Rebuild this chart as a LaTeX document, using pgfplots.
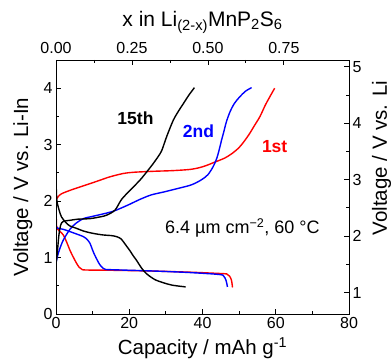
\documentclass[border=0pt]{standalone}
\usepackage{pgfplots}
\pgfplotsset{compat=1.18}
\usepackage{pgfplotstable}
\usepackage{fontspec}
\setmainfont{Liberation Sans}

\pgfplotstableread{
cap V
0.0 2.02
0.6 2.08
1.5 2.13
3.8 2.19
6.5 2.25
9.3 2.31
12 2.37
14.7 2.43
18.4 2.49
21 2.51
23.8 2.52
27.3 2.53
31.8 2.54
36.4 2.56
39 2.59
41 2.63
43.7 2.70
46 2.76
48 2.84
50.0 2.95
51.5 3.07
52.8 3.19
54.2 3.34
55.7 3.50
57.3 3.72
59.7 4.00
}\redch

\pgfplotstableread{
cap V
0 2.05
0.05 1.8
0.15 1.56
0.5 1.50
1.1 1.46
2.0 1.40
3.0 1.26
3.8 1.13
4.7 1.01
5.6 0.90
6.3 0.83
7.0 0.795
8 0.78
15 0.775
27 0.76
37 0.74
44 0.72
46.6 0.71
47.4 0.67
47.9 0.60
48.1 0.52
48.2 0.47
}\reddis

\pgfplotstableread{
cap V
0 0.90
0.35 1.01
1.0 1.15
2.0 1.31
3.8 1.50
5.5 1.61
7.5 1.69
10 1.73
12.0 1.76
15.6 1.82
19.3 1.92
22.9 2.03
26 2.11
29.3 2.16
33 2.22
36.6 2.28
38.4 2.33
40 2.39
41.5 2.47
42.9 2.61
43.9 2.76
44.6 2.92
45.2 3.08
45.7 3.20
46.5 3.40
47.5 3.58
48.7 3.73
50.2 3.85
51.8 3.95
53.4 4.01
}\bluech

\pgfplotstableread{
cap V
0 1.55
0.5 1.52
2.0 1.50
3.8 1.46
5.5 1.42
7.5 1.37
8.5 1.32
9.3 1.25
10.0 1.13
10.6 1.04
11.3 0.95
12.0 0.87
12.9 0.81
13.5 0.79
15 0.785
20 0.775
27.3 0.76
36.4 0.735
44.6 0.70
45.8 0.67
46.4 0.60
46.7 0.52
46.8 0.48
}\bluedis

\pgfplotstableread{
cap V
0 0.90
0.3 1.05
0.8 1.40
1.3 1.58
2.0 1.64
3.8 1.66
6 1.68
9.3 1.69
12 1.72
13.8 1.75
16.1 1.84
17.9 2.03
20.2 2.19
22.9 2.37
24.8 2.52
26.6 2.67
28.0 2.80
28.9 2.90
30.2 3.14
32.0 3.43
33.5 3.60
34.8 3.73
36.3 3.88
37.8 4.01
}\blackch

\pgfplotstableread{
cap V
0 2.35
0.15 2.1
0.3 1.98
0.9 1.83
1.5 1.72
2.7 1.62
3.8 1.56
5.5 1.52
7.5 1.47
10 1.43
12.9 1.40
15 1.39
16.6 1.37
17.8 1.33
18.4 1.28
19.3 1.20
20.2 1.12
21.1 1.03
22.0 0.95
23.4 0.81
24.6 0.72
26 0.65
27.3 0.60
29.5 0.55
31.8 0.51
35.4 0.48
}\blackdis

\begin{document}
\begin{tikzpicture}
\pgfplotsset{
  common/.style={
    scale only axis, width=293pt, height=254pt,
    axis line style={line width=0.8pt},
    tick style={line width=0.8pt, black},
    tick align=inside,
    major tick length=5pt, minor tick length=3pt,
    ticklabel style={font=\fontsize{16}{18}\selectfont},
    label style={font=\fontsize{20.5}{22}\selectfont},
    /pgf/number format/assume math mode=true,
  }
}
\begin{axis}[common,
  xmin=0, xmax=80, ymin=0, ymax=4.5,
  tick pos=left,
  xtick={0,20,...,80}, minor x tick num=1,
  ytick={0,1,2,3,4}, minor y tick num=1,
  xlabel={Capacity / mAh g\textsuperscript{-1}},
  ylabel={Voltage / V vs. Li-In},
  xlabel style={at={(axis description cs:0.5,-0.161)}, anchor=base},
  ylabel style={at={(axis description cs:-0.113,0.5)}, anchor=center},
  every axis plot/.append style={line width=1.4pt, smooth, tension=0.5},
]
\addplot[red] table {\redch};
\addplot[red] table {\reddis};
\addplot[blue] table {\bluech};
\addplot[blue] table {\bluedis};
\addplot[black] table {\blackch};
\addplot[black] table {\blackdis};
\node[anchor=base, font=\fontsize{17.5}{19}\selectfont\bfseries] at (axis cs:21.7,3.35) {15th};
\node[anchor=base, font=\fontsize{17.5}{19}\selectfont\bfseries, text=blue] at (axis cs:38.9,3.13) {2nd};
\node[anchor=base, font=\fontsize{17.5}{19}\selectfont\bfseries, text=red] at (axis cs:59.7,2.87) {1st};
\node[anchor=base, font=\fontsize{18}{20}\selectfont] at (axis cs:50.9,1.43) {6.4 µm cm\textsuperscript{−2}, 60 °C};
\coordinate (bl) at (rel axis cs:0,0);
\coordinate (tr) at (rel axis cs:1,1);
\end{axis}
\begin{axis}[common,
  xmin=0, xmax=0.96445, ymin=0.62, ymax=5.12,
  tick pos=right,
  xtick={0,0.25,0.5,0.75}, minor x tick num=1,
  ytick={1,2,3,4,5}, minor y tick num=1,
  xticklabel style={yshift=3pt, /pgf/number format/.cd, fixed, fixed zerofill, precision=2},
  xlabel={x in Li\textsubscript{(2-x)}MnP\textsubscript{2}S\textsubscript{6}},
  ylabel={Voltage / V vs. Li},
  xlabel style={at={(axis description cs:0.5,1.131)}, anchor=base, font=\fontsize{21}{23}\selectfont},
  ylabel style={at={(axis description cs:1.111,0.614)}, anchor=center},
]
\end{axis}
\pgfresetboundingbox
\path ([shift={(-56pt,-49pt)}]bl) rectangle ([shift={(42pt,60pt)}]tr);
\end{tikzpicture}
\end{document}
